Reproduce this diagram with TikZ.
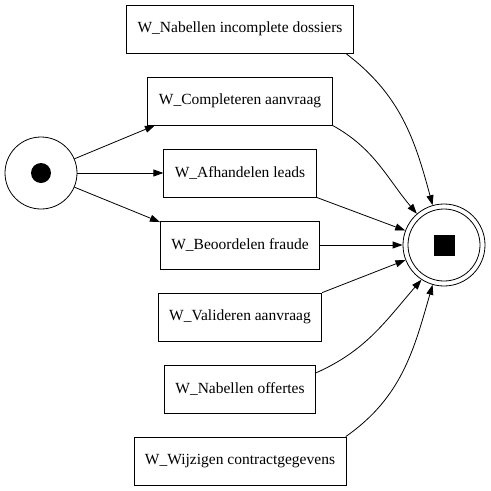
\documentclass[tikz,border=0pt]{standalone}
\usepackage{fontspec}
\setmainfont{Liberation Serif}
\usetikzlibrary{arrows.meta}

\begin{document}
\begin{tikzpicture}[x=1pt, y=-1pt, font=\fontsize{15.5}{18}\selectfont,
	task/.style={draw, rectangle, minimum height=48pt, inner xsep=11pt, line width=0.8pt},
	place/.style={draw, circle, inner sep=0pt, line width=0.8pt},
	flow/.style={-{Triangle[length=10pt, width=7pt]}, line width=0.8pt}]
	\useasboundingbox (0,0) rectangle (491,491);

	\node[place, minimum size=72pt] (start) at (41,173) {};
	\fill[black] (start) circle (10pt);
	\node[place, minimum size=82pt] (end) at (444,245) {};
	\draw[line width=0.8pt] (end) circle (36pt);
	\node[fill=black, minimum size=21pt, inner sep=0pt] (stop) at (end) {};

	\node[task] (nid)  at (240,29)  {W\_Nabellen incomplete dossiers};
	\node[task] (comp) at (240,101) {W\_Completeren aanvraag};
	\node[task] (afh)  at (240,173) {W\_Afhandelen leads};
	\node[task] (beo)  at (240,245) {W\_Beoordelen fraude};
	\node[task] (val)  at (240,317) {W\_Valideren aanvraag};
	\node[task] (noff) at (240,389) {W\_Nabellen offertes};
	\node[task] (wij)  at (240,461) {W\_Wijzigen contractgegevens};

	\draw[flow] (start.23) -- (comp.196);
	\draw[flow] (start) -- (afh);
	\draw[flow] (start.-23) -- (beo.164);

	\draw[flow] (nid.-13.5) to[out=-37, in=105] (end.106);
	\draw[flow] (comp.south east) to[out=-29, in=130] (end.131);
	\draw[flow] (afh.south east) -- (end);
	\draw[flow] (beo) -- (end);
	\draw[flow] (val.north east) -- (end);
	\draw[flow] (noff.12.5) to[out=24, in=229] (end.237);
	\draw[flow] (wij.13.8) to[out=35, in=254] (end.254);
\end{tikzpicture}
\end{document}
